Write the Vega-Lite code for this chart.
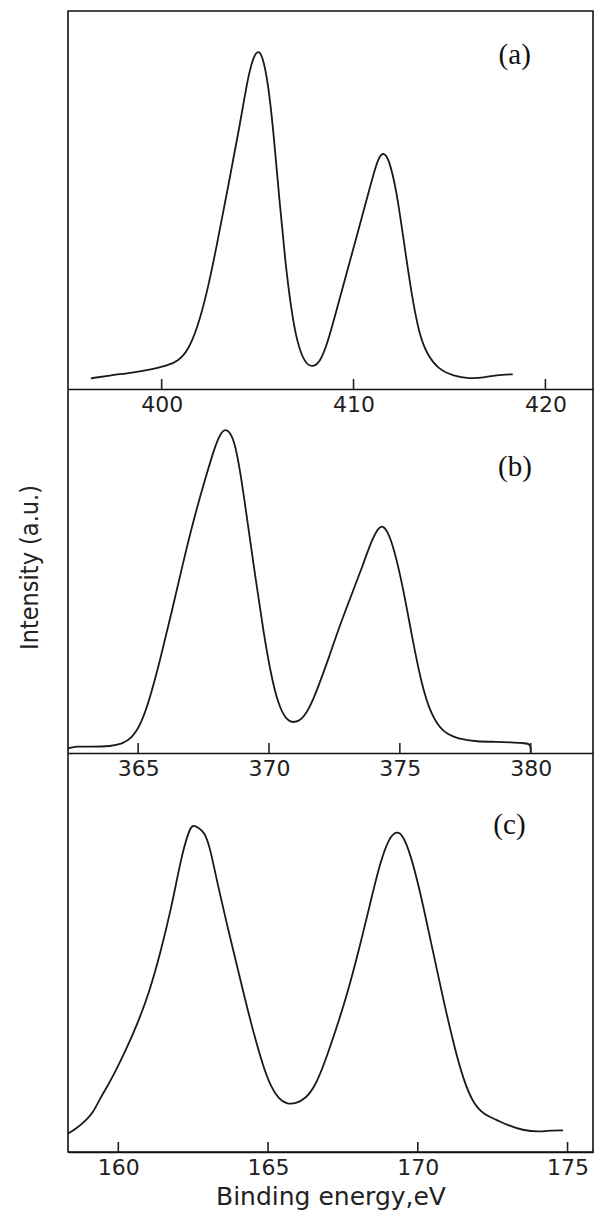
{
  "$schema": "https://vega.github.io/schema/vega-lite/v6.json",
  "autosize": {"type": "none"},
  "width": 525,
  "height": 1141,
  "padding": {"left": 68, "top": 11, "right": 5, "bottom": 66},
  "background": "white",
  "config": {
    "view": {"stroke": "#111", "strokeWidth": 1.6},
    "axis": {"grid": false, "ticks": false, "tickSize": 0, "labelPadding": 5, "domainColor": "#111", "domainWidth": 1.6, "labelFont": "DejaVu Sans", "labelFontSize": 22, "labelColor": "#222", "titleFont": "DejaVu Sans", "titleFontWeight": "normal", "titleColor": "#222"},
    "line": {"color": "#1a1a1a", "strokeWidth": 1.8, "interpolate": "basis"},
    "text": {"font": "Liberation Serif", "fontSize": 29, "color": "#111"}
  },
  "resolve": {"scale": {"x": "independent", "y": "independent"}, "axis": {"x": "independent", "y": "independent"}},
  "layer": [
    {
      "layer": [
        {
          "data": {"values": [
            {"e": 396.31, "i": 10.7}, {"e": 397.47, "i": 14}, {"e": 398.46, "i": 16.3}, {"e": 399.46, "i": 19.7},
            {"e": 400.26, "i": 23}, {"e": 400.86, "i": 28}, {"e": 401.36, "i": 38}, {"e": 401.85, "i": 60},
            {"e": 402.35, "i": 95}, {"e": 402.85, "i": 141}, {"e": 403.45, "i": 201}, {"e": 404.05, "i": 261},
            {"e": 404.55, "i": 318}, {"e": 404.85, "i": 335}, {"e": 405.05, "i": 338}, {"e": 405.24, "i": 334},
            {"e": 405.54, "i": 308}, {"e": 405.84, "i": 255}, {"e": 406.14, "i": 188}, {"e": 406.44, "i": 128},
            {"e": 406.74, "i": 81}, {"e": 407.04, "i": 48}, {"e": 407.44, "i": 26.3}, {"e": 407.84, "i": 21.5},
            {"e": 408.24, "i": 26.3}, {"e": 408.63, "i": 44.7}, {"e": 409.13, "i": 80}, {"e": 409.63, "i": 115},
            {"e": 410.23, "i": 157.3}, {"e": 410.83, "i": 199.7}, {"e": 411.13, "i": 221.3}, {"e": 411.38, "i": 234},
            {"e": 411.58, "i": 236}, {"e": 411.82, "i": 231.3}, {"e": 412.22, "i": 201.3}, {"e": 412.62, "i": 148},
            {"e": 413.02, "i": 95}, {"e": 413.42, "i": 55}, {"e": 413.82, "i": 35}, {"e": 414.42, "i": 19.7},
            {"e": 415.21, "i": 13}, {"e": 416.01, "i": 10.3}, {"e": 416.81, "i": 11.3}, {"e": 417.41, "i": 14},
            {"e": 418.3, "i": 14.7}
          ]},
          "mark": {"type": "line"},
          "encoding": {
            "x": {"field": "e", "type": "quantitative", "scale": {"domain": [395.12, 422.48], "nice": false, "zero": false},
                  "axis": {"orient": "bottom", "offset": -763, "values": [400, 410, 420], "title": null}},
            "y": {"field": "i", "type": "quantitative", "scale": {"domain": [-763, 378], "nice": false, "zero": false}, "axis": null}
          }
        },
        {
          "data": {"values": [{"e": 400}, {"e": 410}, {"e": 420}]},
          "mark": {"type": "rule", "color": "#222", "strokeWidth": 1.6},
          "encoding": {
            "x": {"field": "e", "type": "quantitative"},
            "y": {"datum": 0},
            "y2": {"datum": 10}
          }
        },
        {
          "data": {"values": [{"e": 418.4, "i": 334, "t": "(a)"}]},
          "mark": {"type": "text", "align": "center", "baseline": "middle"},
          "encoding": {
            "x": {"field": "e", "type": "quantitative"},
            "y": {"field": "i", "type": "quantitative"},
            "text": {"field": "t"}
          }
        }
      ]
    },
    {
      "layer": [
        {
          "data": {"values": [
            {"e": 362.34, "i": 4.7}, {"e": 362.64, "i": 6.7}, {"e": 363.22, "i": 6.3}, {"e": 363.95, "i": 6.7},
            {"e": 364.39, "i": 9}, {"e": 364.75, "i": 14.7}, {"e": 365.12, "i": 29}, {"e": 365.48, "i": 57.3},
            {"e": 365.85, "i": 94}, {"e": 366.28, "i": 140.7}, {"e": 366.72, "i": 190.7}, {"e": 367.16, "i": 237.3},
            {"e": 367.6, "i": 277.3}, {"e": 367.96, "i": 309}, {"e": 368.2, "i": 322}, {"e": 368.35, "i": 323.5},
            {"e": 368.5, "i": 321}, {"e": 368.69, "i": 310.7}, {"e": 368.91, "i": 280.7}, {"e": 369.2, "i": 227.3},
            {"e": 369.49, "i": 174}, {"e": 369.79, "i": 120.7}, {"e": 370.08, "i": 77.3}, {"e": 370.37, "i": 47.3},
            {"e": 370.66, "i": 33}, {"e": 370.95, "i": 30}, {"e": 371.24, "i": 33}, {"e": 371.54, "i": 44},
            {"e": 371.9, "i": 67.3}, {"e": 372.27, "i": 94}, {"e": 372.7, "i": 127.3}, {"e": 373.14, "i": 157.3},
            {"e": 373.58, "i": 187.3}, {"e": 373.94, "i": 214}, {"e": 374.2, "i": 226}, {"e": 374.35, "i": 227},
            {"e": 374.5, "i": 223}, {"e": 374.75, "i": 207.3}, {"e": 375.11, "i": 167.3}, {"e": 375.48, "i": 114},
            {"e": 375.84, "i": 67.3}, {"e": 376.21, "i": 37.3}, {"e": 376.64, "i": 20.7}, {"e": 377.23, "i": 14},
            {"e": 377.96, "i": 11.3}, {"e": 378.69, "i": 11.3}, {"e": 379.27, "i": 10.7}, {"e": 379.63, "i": 10},
            {"e": 379.97, "i": 9.5}, {"e": 380.0, "i": 5}, {"e": 380.0, "i": 0}
          ]},
          "mark": {"type": "line"},
          "encoding": {
            "x": {"field": "e", "type": "quantitative", "scale": {"domain": [362.32, 382.38], "nice": false, "zero": false},
                  "axis": {"orient": "bottom", "offset": -399, "values": [365, 370, 375, 380], "title": null}},
            "y": {"field": "i", "type": "quantitative", "scale": {"domain": [-399, 742], "nice": false, "zero": false},
                  "axis": {"orient": "left", "title": "Intensity (a.u.)", "domain": false, "labels": false, "titleFont": "DejaVu Sans Condensed", "titleFontSize": 25, "titleAngle": -90, "titleAlign": "center", "titleBaseline": "middle", "titleX": -39, "titleY": 556}}
          }
        },
        {
          "data": {"values": [{"e": 365}, {"e": 370}, {"e": 375}, {"e": 380}]},
          "mark": {"type": "rule", "color": "#222", "strokeWidth": 1.6},
          "encoding": {
            "x": {"field": "e", "type": "quantitative"},
            "y": {"datum": 0},
            "y2": {"datum": 10}
          }
        },
        {
          "data": {"values": [{"e": 379.4, "i": 286, "t": "(b)"}]},
          "mark": {"type": "text", "align": "center", "baseline": "middle"},
          "encoding": {
            "x": {"field": "e", "type": "quantitative"},
            "y": {"field": "i", "type": "quantitative"},
            "text": {"field": "t"}
          }
        }
      ]
    },
    {
      "layer": [
        {
          "data": {"values": [
            {"e": 158.32, "i": 18.3}, {"e": 158.6, "i": 23.4}, {"e": 158.92, "i": 31.7}, {"e": 159.17, "i": 40},
            {"e": 159.39, "i": 53.4}, {"e": 159.62, "i": 65}, {"e": 159.87, "i": 78.4}, {"e": 160.25, "i": 101.7},
            {"e": 160.64, "i": 128.4}, {"e": 161.02, "i": 158.4}, {"e": 161.4, "i": 198.4}, {"e": 161.78, "i": 245},
            {"e": 162.1, "i": 295}, {"e": 162.36, "i": 322}, {"e": 162.49, "i": 327.5}, {"e": 162.68, "i": 324},
            {"e": 162.87, "i": 320}, {"e": 163.06, "i": 305}, {"e": 163.31, "i": 268.4}, {"e": 163.7, "i": 218.4},
            {"e": 164.08, "i": 171.7}, {"e": 164.46, "i": 125}, {"e": 164.84, "i": 85}, {"e": 165.1, "i": 65},
            {"e": 165.35, "i": 53.4}, {"e": 165.61, "i": 48}, {"e": 165.93, "i": 48.4}, {"e": 166.25, "i": 53.4},
            {"e": 166.56, "i": 65}, {"e": 166.88, "i": 88.4}, {"e": 167.26, "i": 121.7}, {"e": 167.65, "i": 158.4},
            {"e": 168.03, "i": 201.7}, {"e": 168.41, "i": 248.4}, {"e": 168.73, "i": 288.4}, {"e": 169.05, "i": 315},
            {"e": 169.3, "i": 321}, {"e": 169.5, "i": 317}, {"e": 169.75, "i": 298.4}, {"e": 170.07, "i": 261.7},
            {"e": 170.45, "i": 208.4}, {"e": 170.83, "i": 155}, {"e": 171.22, "i": 105}, {"e": 171.53, "i": 71.7},
            {"e": 171.85, "i": 48.4}, {"e": 172.24, "i": 36.7}, {"e": 172.62, "i": 32.4}, {"e": 173.0, "i": 26.7},
            {"e": 173.51, "i": 21.7}, {"e": 174.02, "i": 20}, {"e": 174.47, "i": 21.7}, {"e": 174.85, "i": 21.7}
          ]},
          "mark": {"type": "line"},
          "encoding": {
            "x": {"field": "e", "type": "quantitative", "scale": {"domain": [158.32, 175.85], "nice": false, "zero": false},
                  "axis": {"orient": "bottom", "offset": 0, "values": [160, 165, 170, 175], "title": "Binding energy,eV", "titleFontSize": 25, "titlePadding": 6}},
            "y": {"field": "i", "type": "quantitative", "scale": {"domain": [0, 1141], "nice": false, "zero": false}, "axis": null}
          }
        },
        {
          "data": {"values": [{"e": 160}, {"e": 165}, {"e": 170}, {"e": 175}]},
          "mark": {"type": "rule", "color": "#222", "strokeWidth": 1.6},
          "encoding": {
            "x": {"field": "e", "type": "quantitative"},
            "y": {"datum": 0},
            "y2": {"datum": 10}
          }
        },
        {
          "data": {"values": [{"e": 173.06, "i": 327, "t": "(c)"}]},
          "mark": {"type": "text", "align": "center", "baseline": "middle"},
          "encoding": {
            "x": {"field": "e", "type": "quantitative"},
            "y": {"field": "i", "type": "quantitative"},
            "text": {"field": "t"}
          }
        }
      ]
    }
  ]
}
